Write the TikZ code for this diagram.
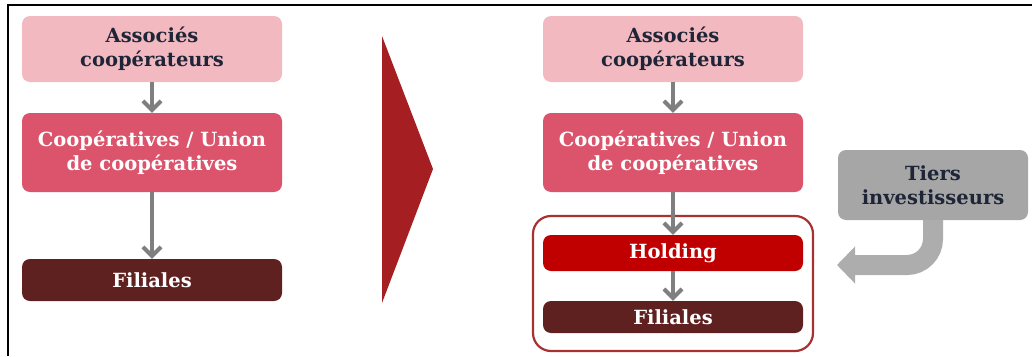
\documentclass[tikz,border=0pt]{standalone}
\usepackage{fontspec}
\setmainfont{DejaVu Serif}
\usetikzlibrary{arrows.meta}
\definecolor{pinkl}{HTML}{F2B9C1}
\definecolor{coop}{HTML}{DC546B}
\definecolor{fil}{HTML}{5F2120}
\definecolor{hold}{HTML}{C00000}
\definecolor{tri}{HTML}{A51F22}
\definecolor{grpc}{HTML}{A83232}
\definecolor{grayb}{HTML}{A6A6A6}
\definecolor{graya}{HTML}{ADADAD}
\definecolor{conn}{HTML}{7F7F7F}
\definecolor{darktxt}{HTML}{1E2536}
\tikzset{
  box/.style={rounded corners=8pt, minimum width=260pt, align=center, inner sep=0pt,
    font=\fontsize{19.5}{24}\selectfont\bfseries},
  lightbox/.style={box, fill=pinkl, text=darktxt},
  coopbox/.style={box, fill=coop, text=white},
  filbox/.style={box, fill=fil, text=white},
  holdbox/.style={box, fill=hold, text=white},
  tiersbox/.style={box, fill=grayb, text=darktxt, minimum width=190pt, minimum height=70pt},
  connector/.style={draw=conn, line width=4pt, -{Straight Barb[length=9pt, width=18pt, line width=4pt]}},
  grpbox/.style={draw=grpc, line width=2.2pt, rounded corners=18pt, minimum width=280pt, minimum height=135pt, inner sep=0pt},
  bigarrow/.style={draw=graya, line width=20pt, rounded corners=26pt, -{Triangle[length=18pt, width=36pt]}}
}
\begin{document}
\begin{tikzpicture}[x=1pt, y=-1pt]
\useasboundingbox (0,0) rectangle (1032,356);
% frame lines
\draw[black, line width=2pt] (8,356) -- (8,5) -- (1032,5);
% left column
\node[lightbox, minimum height=66pt] (a1) at (152,49) {Associés\\coopérateurs};
\node[coopbox, minimum height=79pt] (c1) at (152,152.5) {Coopératives / Union\\de coopératives};
\node[filbox, minimum height=42pt] (f1) at (152,280) {Filiales};
\draw[connector] (a1) -- (c1);
\draw[connector] (c1) -- (f1);
% big triangle
\fill[tri] (382,36) -- (433,169) -- (382,303) -- cycle;
% right column
\node[grpbox] (grp) at (673,283.5) {};
\node[lightbox, minimum height=66pt] (a2) at (673,49) {Associés\\coopérateurs};
\node[coopbox, minimum height=79pt] (c2) at (673,152.5) {Coopératives / Union\\de coopératives};
\node[holdbox, minimum height=36pt] (h2) at (673,253) {Holding};
\node[filbox, minimum height=32pt] (f2) at (673,317) {Filiales};
\draw[connector] (a2) -- (c2);
\draw[connector] (c2) -- (h2);
\draw[connector] (h2) -- (f2);
% tiers investisseurs
\node[tiersbox] (t) at (933,185) {Tiers\\investisseurs};
\coordinate (tend) at (837,265);
\draw[bigarrow] (t.south) |- (tend);
\end{tikzpicture}
\end{document}
